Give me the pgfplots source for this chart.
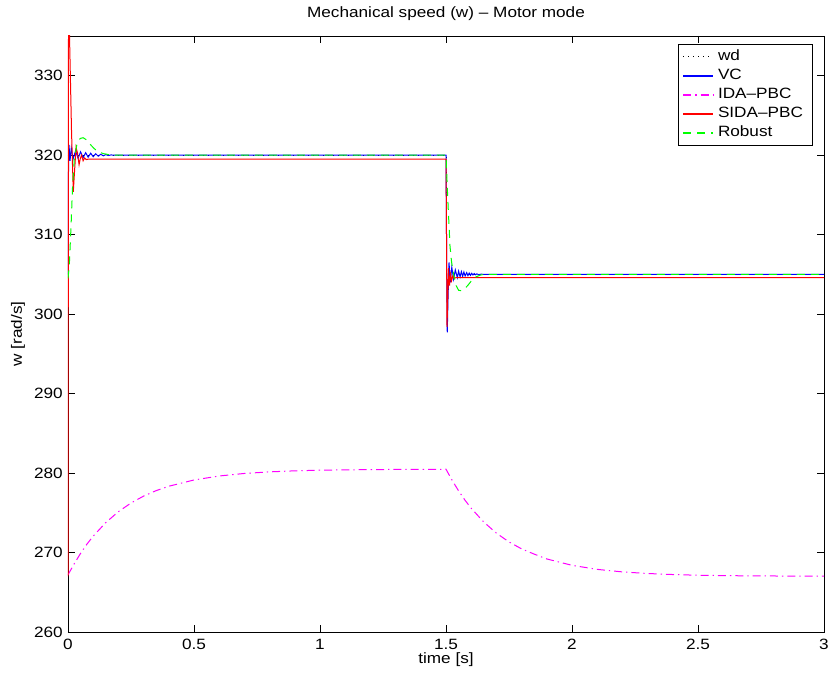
\documentclass[border=0pt]{standalone}
\usepackage{fontspec}
\setmainfont{Liberation Sans}[FakeStretch=1.15]
\usepackage{pgfplots}
\pgfplotsset{compat=1.18}
\definecolor{mblue}{rgb}{0,0,1}
\definecolor{mmag}{rgb}{1,0,1}
\definecolor{mred}{rgb}{1,0,0}
\definecolor{mgreen}{rgb}{0,1,0}
\begin{document}
\fontsize{11.2}{13.4}\selectfont
\begin{tikzpicture}
\begin{axis}[
  scale only axis, width=567pt, height=447pt,
  at={(0,0)}, anchor=south west,
  xmin=0, xmax=3, ymin=260, ymax=335,
  xtick={0,0.5,1,1.5,2,2.5,3},
  xticklabels={0,0.5,1,1.5,2,2.5,3},
  ytick={260,270,280,290,300,310,320,330},
  tick align=inside, major tick length=5pt,
  /pgf/number format/assume math mode=true,
  tick label style={font=\fontsize{11.2}{13}\selectfont},
  xticklabel style={yshift=-1.5pt},
  axis line style={line width=0.6pt},
  every tick/.style={line width=0.6pt,black},
  every axis title shift=0pt,
  title={Mechanical speed (w) -- Motor mode},
  title style={at={([yshift=16.5pt]axis description cs:0.5,1)}, anchor=center},
  xlabel={time [s]},
  xlabel style={at={([yshift=-21pt]axis description cs:0.5,0)}, anchor=center},
  ylabel={w [rad/s]},
  ylabel style={at={([xshift=-37.5pt]axis description cs:0,0.5)}, anchor=center},
  legend cell align=left,
  legend style={at={(0.9845,0.9866)}, anchor=north east,
    font=\fontsize{11.2}{13}\selectfont, inner xsep=3.5pt, inner ysep=2.2pt,
    row sep=0pt,
    nodes={text height=8pt, text depth=2.5pt, inner ysep=1.9pt, inner xsep=3.3pt}},
  legend image post style={xscale=1.3, line width=1.1pt},
]
% wd
\addplot[color=black, line width=0.75pt, dash pattern=on 0.75pt off 3pt] coordinates {
(0,320) (1.5,320) (1.5,305) (3,305)};
\addlegendentry{wd}
% VC
\addplot[color=mblue, line width=0.75pt] coordinates {
(0,305) (0.002,318) (0.004,321.3) (0.008,319.3) (0.013,320.9) (0.02,319.5) (0.03,320.55)
(0.04,319.6) (0.05,320.42) (0.06,319.68) (0.07,320.32) (0.08,319.75) (0.09,320.25)
(0.10,319.81) (0.11,320.18) (0.12,319.87) (0.13,320.12) (0.14,319.92) (0.15,320.07)
(0.16,319.96) (0.17,320.03) (0.19,320) (1.5,320)
(1.503,305) (1.505,297.7) (1.508,302) (1.512,306.5) (1.517,304.0) (1.523,305.9)
(1.530,304.4) (1.537,305.55) (1.545,304.6) (1.550,305.4) (1.556,304.7) (1.561,305.35)
(1.566,304.75) (1.571,305.3) (1.576,304.8) (1.582,305.22) (1.587,304.85) (1.592,305.17)
(1.597,304.88) (1.602,305.13) (1.607,304.92) (1.612,305.1) (1.617,304.95) (1.622,305.06)
(1.630,304.97) (1.64,305.03) (1.65,305) (3,305)};
\addlegendentry{VC}
% IDA-PBC
\addplot[color=mmag, line width=0.75pt, dash pattern=on 6pt off 3pt on 1pt off 3pt] coordinates {
(0,267.2) (0.025,268.6) (0.05,269.90) (0.075,271.05) (0.1,272.06) (0.15,273.77) (0.2,275.14)
(0.25,276.23) (0.3,277.10) (0.35,277.79) (0.4,278.34) (0.5,279.13) (0.6,279.63)
(0.7,279.95) (0.8,280.15) (0.9,280.28) (1.0,280.36) (1.2,280.44) (1.5,280.48)
(1.525,279.05) (1.55,277.76) (1.575,276.6) (1.6,275.57) (1.65,273.83) (1.7,272.44) (1.75,271.33)
(1.8,270.46) (1.85,269.8) (1.9,269.19) (2.0,268.39) (2.1,267.88) (2.2,267.56) (2.3,267.36)
(2.4,267.23) (2.5,267.14) (2.7,267.06) (3.0,267.02)};
\addlegendentry{IDA--PBC}
% SIDA-PBC
\addplot[color=mred, line width=0.75pt] coordinates {
(0,267) (0.002,335) (0.0035,340) (0.006,335) (0.014,323) (0.021,315.4) (0.027,318.5)
(0.032,321.0) (0.038,320.2) (0.044,318.8) (0.049,319.6) (0.054,320.0) (0.060,319.3)
(0.066,319.65) (0.072,319.45) (0.08,319.5) (1.5,319.5)
(1.502,310) (1.504,298.4) (1.507,302) (1.510,305.8) (1.514,303.6) (1.518,305.0)
(1.522,304.2) (1.527,304.8) (1.532,304.5) (1.54,304.6) (3,304.6)};
\addlegendentry{SIDA--PBC}
% Robust
\addplot[color=mgreen, line width=0.75pt, dash pattern=on 6pt off 4.5pt] coordinates {
(0,304.5) (0.005,306) (0.012,311) (0.018,316) (0.025,319.5) (0.035,321.3) (0.048,322.1)
(0.06,322.2) (0.075,321.9) (0.09,321.3) (0.105,320.8) (0.12,320.45) (0.14,320.2)
(0.165,320.06) (0.2,320) (1.5,320)
(1.505,316) (1.510,312.5) (1.516,308.5) (1.522,306.6) (1.530,305.0) (1.540,303.6)
(1.550,303.0) (1.560,302.95) (1.575,303.2) (1.59,303.75) (1.605,304.35) (1.62,304.7)
(1.635,304.9) (1.65,305.0) (3,305.0)};
\addlegendentry{Robust}
\end{axis}
\pgfresetboundingbox
\path[use as bounding box] (-51pt,-36pt) rectangle (573.75pt,474pt);
\end{tikzpicture}
\end{document}
